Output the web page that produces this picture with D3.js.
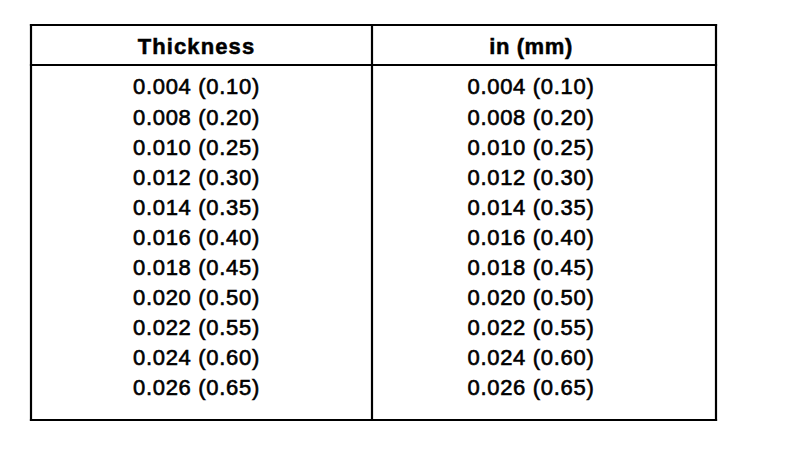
<!DOCTYPE html>
<html>
<head>
<meta charset="utf-8">
<script src="https://cdn.jsdelivr.net/npm/d3@7"></script>
<style>
  html, body { margin: 0; padding: 0; background: #fff; }
  svg { display: block; }
  text { font-family: "Liberation Sans", Arial, Helvetica, sans-serif; fill: #000; }
</style>
</head>
<body>
<svg id="chart" width="800" height="454"></svg>
<script>
const headers = ["Thickness", "in (mm)"];
const thicknessIn = ["0.004", "0.008", "0.010", "0.012", "0.014", "0.016", "0.018", "0.020", "0.022", "0.024", "0.026"];
const thicknessMm = ["0.10", "0.20", "0.25", "0.30", "0.35", "0.40", "0.45", "0.50", "0.55", "0.60", "0.65"];
const col1 = thicknessIn.map((v, i) => `${v} (${thicknessMm[i]})`);
const col2 = thicknessIn.map((v, i) => `${v} (${thicknessMm[i]})`);
const columns = [col1, col2];

(function () {
const svg = d3.select("#chart");
const tLeft = 31, tRight = 716, tTop = 25, tBottom = 420, headerLine = 65, divider = 372;

const colX = d3.scaleOrdinal().domain([0, 1]).range([[tLeft, divider], [divider, tRight]]);
const colCenter = i => { const r = colX(i); return (r[0] + r[1]) / 2 - 5 + (i === 1 ? -8 : 0); };

const rowY = d3.scaleBand().domain(d3.range(col1.length)).range([71.5, 402.5]);

const g = svg.append("g");

const lines = [
  [tLeft, tTop, tRight, tTop],
  [tLeft, headerLine, tRight, headerLine],
  [tLeft, tBottom, tRight, tBottom],
  [tLeft, tTop, tLeft, tBottom],
  [tRight, tTop, tRight, tBottom],
  [divider, tTop, divider, tBottom]
];
g.selectAll("line").data(lines).join("line")
  .attr("x1", d => d[0]).attr("y1", d => d[1])
  .attr("x2", d => d[2]).attr("y2", d => d[3])
  .attr("stroke", "#000").attr("stroke-width", 2.2)
  .attr("stroke-linecap", "square");

g.selectAll("text.header").data(headers).join("text")
  .attr("class", "header")
  .attr("x", (d, i) => colCenter(i))
  .attr("y", 46)
  .attr("dy", "0.35em")
  .attr("text-anchor", "middle")
  .attr("font-size", 22)
  .attr("font-weight", "bold")
  .attr("letter-spacing", (d, i) => i === 0 ? 1.1 : 0.6)
  .attr("stroke", "#000")
  .attr("stroke-width", 0.5)
  .text(d => d);

columns.forEach((col, ci) => {
  g.selectAll(`text.c${ci}`).data(col).join("text")
    .attr("class", `c${ci}`)
    .attr("x", colCenter(ci))
    .attr("y", (d, i) => rowY(i) + rowY.bandwidth() / 2)
    .attr("dy", "0.36em")
    .attr("text-anchor", "middle")
    .attr("font-size", 22)
    .attr("letter-spacing", 0.7)
    .attr("stroke", "#000")
    .attr("stroke-width", 0.6)
    .text(d => d);
});
})();
</script>
</body>
</html>
